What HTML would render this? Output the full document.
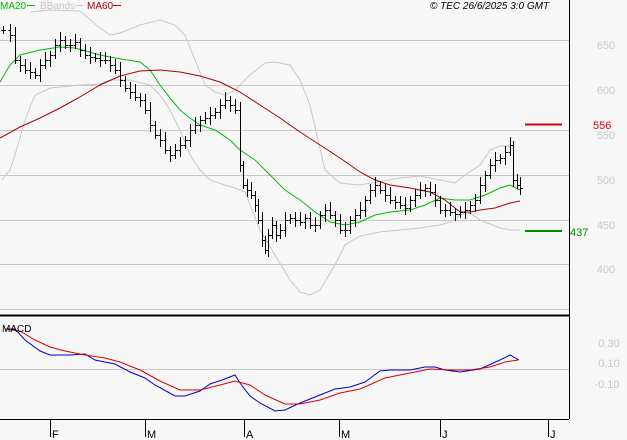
<!DOCTYPE html>
<html><head><meta charset="utf-8"><style>
body{margin:0;background:#f7f7f7;}
svg{display:block;font-family:"Liberation Sans",sans-serif;}
</style></head><body>
<svg id="s" width="627" height="440" viewBox="0 0 627 440" xmlns="http://www.w3.org/2000/svg">
<rect width="627" height="440" fill="#f7f7f7"/>
<g stroke="#c8c8c8" stroke-width="1">
<line x1="0" y1="40.5" x2="569" y2="40.5"/>
<line x1="0" y1="85.5" x2="569" y2="85.5"/>
<line x1="0" y1="130.5" x2="569" y2="130.5"/>
<line x1="0" y1="175.5" x2="569" y2="175.5"/>
<line x1="0" y1="220.5" x2="569" y2="220.5"/>
<line x1="0" y1="264.5" x2="569" y2="264.5"/>
<line x1="0" y1="309.5" x2="569" y2="309.5"/>
<line x1="0" y1="369.5" x2="569" y2="369.5"/>
</g>
<g fill="#c8c8c8" font-size="11" text-anchor="middle">
<text x="606" y="49">650</text><text x="606" y="94">600</text><text x="606" y="139">550</text>
<text x="606" y="184">500</text><text x="606" y="229">450</text><text x="606" y="273">400</text>
<text x="609" y="347">0.30</text><text x="609" y="367">0.10</text><text x="607" y="388">-0.10</text>
</g>
<g id="bands" fill="none" stroke="#c8c8c8" stroke-width="1"></g>
<g id="ma" fill="none"></g>
<g id="bars" stroke="#000" stroke-width="1"></g>
<line x1="525" y1="124.5" x2="562" y2="124.5" stroke="#d00" stroke-width="2"/>
<text x="593" y="129" fill="#d00" font-size="11">556</text>
<line x1="525" y1="231" x2="562" y2="231" stroke="#080" stroke-width="2"/>
<text x="570" y="236" fill="#080" font-size="11">437</text>
<line x1="0" y1="315.5" x2="569" y2="315.5" stroke="#000" stroke-width="2"/>
<line x1="569.5" y1="0" x2="569.5" y2="419" stroke="#000"/>
<line x1="0" y1="419.5" x2="569" y2="419.5" stroke="#000"/>
<g stroke="#000"><line x1="50.5" y1="419" x2="50.5" y2="437"/><line x1="145.5" y1="419" x2="145.5" y2="437"/><line x1="244.5" y1="419" x2="244.5" y2="437"/><line x1="339.5" y1="419" x2="339.5" y2="437"/><line x1="440.5" y1="419" x2="440.5" y2="437"/><line x1="548.5" y1="419" x2="548.5" y2="437"/></g>
<g font-size="11" fill="#000"><text x="52" y="438">F</text><text x="147" y="438">M</text><text x="246" y="438">A</text><text x="341" y="438">M</text><text x="442" y="438">J</text><text x="550" y="438">J</text></g>
<g id="macd" fill="none" stroke-width="1"></g>
<text x="2" y="332" font-size="10" fill="#000">MACD</text>
<text x="0" y="9" font-size="10" fill="#0b0">MA20</text><line x1="27" y1="5.5" x2="35" y2="5.5" stroke="#0b0"/>
<text x="40" y="9" font-size="10" fill="#c8c8c8">BBands</text><line x1="75" y1="5.5" x2="83" y2="5.5" stroke="#c8c8c8"/>
<text x="87" y="9" font-size="10" fill="#a00">MA60</text><line x1="113" y1="5.5" x2="121" y2="5.5" stroke="#a00"/>
<text x="430" y="9" font-size="10" font-style="italic" fill="#000">© TEC 26/6/2025 3:0 GMT</text>
</svg>
<script>
const NS="http://www.w3.org/2000/svg";
function pl(g,pts,col){const p=document.createElementNS(NS,"polyline");p.setAttribute("points",pts.map(a=>a.join(",")).join(" "));if(col)p.setAttribute("stroke",col);document.getElementById(g).appendChild(p);}
pl("bands",[[30,12],[50,10],[80,11],[100,28],[110,35],[120,33],[140,25],[160,20],[175,25],[185,35],[195,60],[205,85],[215,92],[225,95],[235,90],[250,75],[265,63],[275,62],[290,65],[300,80],[310,105],[318,140],[325,170],[340,183],[360,185],[400,178],[420,176],[440,180],[455,183],[465,175],[480,165],[490,150],[500,146],[510,146]]);
pl("bands",[[2,180],[10,170],[15,155],[25,120],[35,95],[50,88],[80,85],[100,84],[110,80],[130,80],[150,85],[160,95],[170,110],[180,130],[190,155],[200,170],[210,180],[225,185],[235,188],[245,192],[260,230],[275,255],[290,280],[300,292],[310,295],[320,290],[335,265],[345,245],[360,236],[380,232],[400,230],[420,228],[440,225],[450,222],[460,215],[470,213],[480,220],[500,228],[510,230],[520,230]]);
pl("ma",[[0,82],[10,65],[20,55],[40,50],[60,47],[75,48],[100,55],[115,58],[140,62],[150,70],[160,85],[170,98],[180,110],[190,118],[200,125],[215,130],[230,140],[240,150],[255,160],[270,175],[285,190],[300,200],[315,212],[330,222],[345,225],[360,222],[375,215],[390,212],[410,210],[425,205],[440,198],[455,200],[470,200],[485,195],[500,188],[510,185],[520,190]],"#0b0");
pl("ma",[[0,138],[20,127],[40,118],[60,108],[80,97],[100,85],[120,76],[140,71],[160,70],[180,72],[200,76],[220,82],[240,92],[260,105],[280,118],[300,132],[320,145],[340,158],[360,172],[375,180],[390,185],[410,188],[430,192],[445,200],[460,212],[470,212],[480,210],[495,208],[510,203],[520,201]],"#a00");
pl("macd",[[5,329],[15,329],[25,340],[40,351],[50,355],[70,355],[85,354],[95,360],[115,364],[130,372],[145,378],[155,385],[175,396],[185,396],[200,391],[210,384],[222,380],[235,375],[240,383],[250,396],[260,403],[275,411],[285,410],[300,403],[320,395],[335,389],[350,387],[365,382],[380,371],[390,370],[410,370],[425,367],[435,367],[445,370],[460,372],[480,369],[500,360],[510,355],[519,360]],"#00c");
pl("macd",[[5,329],[20,331],[35,340],[50,347],[65,351],[85,355],[105,358],[120,362],[140,370],[160,381],[180,390],[200,390],[220,385],[235,381],[250,385],[265,395],[285,404],[300,404],[320,400],[340,393],[360,389],[385,378],[410,373],[430,369],[450,370],[470,370],[490,367],[505,362],[518,360]],"#d00");
const c=[[3,30],[10,35],[15,60],[20,65],[25,70],[30,72],[35,75],[40,65],[45,60],[50,55],[55,45],[60,40],[65,45],[70,45],[75,42],[80,50],[85,55],[90,57],[95,58],[100,60],[105,60],[110,65],[115,70],[120,80],[125,88],[130,92],[135,97],[140,100],[145,110],[150,125],[155,135],[160,140],[165,150],[170,155],[175,150],[180,145],[185,140],[190,130],[195,125],[200,120],[205,118],[210,115],[215,112],[220,105],[225,100],[230,105],[235,110],[240,165],[243,185],[247,190],[251,195],[255,205],[258,220],[262,240],[265,250],[268,235],[272,225],[276,235],[280,230],[285,220],[290,218],[295,220],[300,222],[305,218],[310,225],[315,225],[320,215],[325,210],[330,215],[335,220],[340,230],[345,230],[350,220],[355,215],[360,210],[365,200],[370,190],[375,185],[380,190],[385,195],[390,200],[395,202],[400,205],[405,208],[410,200],[415,195],[420,190],[425,188],[430,192],[435,200],[440,210],[445,210],[450,212],[455,214],[460,212],[465,210],[470,205],[475,200],[480,185],[485,175],[490,165],[495,160],[500,158],[505,152],[510,145],[513,180],[517,185],[520,188]];
const g=document.getElementById("bars");let prev=c[0][1];
c.forEach(([x,y],i)=>{const o=prev;const hi=Math.min(o,y)-4-(i%3)*2,lo=Math.max(o,y)+4+(i%2)*3;
const l=document.createElementNS(NS,"path");l.setAttribute("d",`M${x+.5} ${hi}V${lo}M${x-1.5} ${o+.5}H${x}M${x+1} ${y+.5}H${x+3}`);g.appendChild(l);prev=y;});
</script>
</body></html>
